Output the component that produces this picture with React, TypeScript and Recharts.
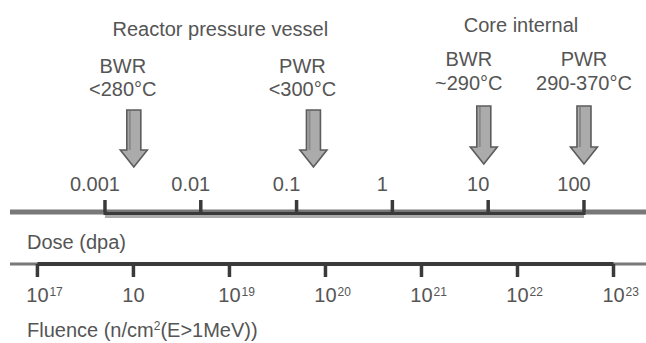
import { ComposedChart, Line, ReferenceLine, Scatter, XAxis, YAxis } from "recharts";

// Dose (dpa) and fluence (n/cm², E>1 MeV) scales, both logarithmic
const doseTicks = [0.001, 0.01, 0.1, 1, 10, 100];
const fluenceTicks = [1e17, 1e18, 1e19, 1e20, 1e21, 1e22, 1e23];
const fluenceExponents = ["17", "", "19", "20", "21", "22", "23"];

// Operating regimes pointed at on the dose scale
const reactorTypes = ["BWR", "PWR", "BWR", "PWR"];
const temperatures = ["<280°C", "<300°C", "~290°C", "290-370°C"];
const componentGroups = ["rpv", "rpv", "core", "core"];
const regimeDose = [0.002, 0.15, 9, 100];

// Group headings over each pair of arrows
const groupTitles = ["Reactor pressure vessel", "Core internal"];
const groupKeys = ["rpv", "core"];
const titleDose = [0.016, 22];

const FONT = '"Liberation Sans", Arial, Helvetica, sans-serif';
const TEXT = "#555";
const LINE_GRAY = "#787878";
const LINE_DARK = "#3a3a3a";
const DOSE_DOMAIN = [1.02e-4, 444];
const FLUENCE_DOMAIN = [5.18e16, 2.18e23];

// vertical offsets (px) above the dose axis line
const groupLayout: Record<string, any> = {
  rpv: { title: -176, reactor: -139, temp: -116, top: -102, tip: -45 },
  core: { title: -180, reactor: -146, temp: -122, top: -106, tip: -48 },
};
const labelShift = [-11, -11, -15, 0];

const regimes = regimeDose.map((dose, i) => ({
  dose,
  level: 1,
  idx: i,
  reactor: reactorTypes[i],
  temp: temperatures[i],
  group: componentGroups[i],
}));

const titles = titleDose.map((dose, i) => ({
  dose,
  level: 1,
  title: groupTitles[i],
  group: groupKeys[i],
}));

// span of the fluence scale between its first and last ticks
const fluenceSpan = [
  { fluence: fluenceTicks[0], level: 0 },
  { fluence: fluenceTicks[fluenceTicks.length - 1], level: 0 },
];

const textStyle = { fontFamily: FONT, fontSize: 20, fill: TEXT };

function RegimeArrow(props: any) {
  const { cx, cy, payload } = props;
  const g = groupLayout[payload.group];
  const tx = cx + labelShift[payload.idx];
  const top = cy + g.top;
  const tip = cy + g.tip;
  const headY = tip - 17;
  const pts = [
    [cx - 7, top],
    [cx + 7, top],
    [cx + 7, headY],
    [cx + 13.5, headY],
    [cx, tip],
    [cx - 13.5, headY],
    [cx - 7, headY],
  ]
    .map((p) => p.join(","))
    .join(" ");
  return (
    <g>
      <text x={tx} y={cy + g.reactor} textAnchor="middle" {...textStyle}>
        {payload.reactor}
      </text>
      <text x={tx} y={cy + g.temp} textAnchor="middle" {...textStyle}>
        {payload.temp}
      </text>
      <polygon points={pts} fill="#ababab" stroke="#5c5c5c" strokeWidth={1.6} />
      <line x1={cx - 4} y1={top + 1} x2={cx - 4} y2={headY} stroke="#8a8a8a" strokeWidth={2} />
    </g>
  );
}

function GroupTitle(props: any) {
  const { cx, cy, payload } = props;
  return (
    <text x={cx} y={cy + groupLayout[payload.group].title} textAnchor="middle" {...textStyle}>
      {payload.title}
    </text>
  );
}

function DoseTick(props: any) {
  const { x, y, payload } = props;
  return (
    <text x={x - 10} y={y - 7} textAnchor="middle" {...textStyle}>
      {String(payload.value)}
    </text>
  );
}

function FluenceTick(props: any) {
  const { x, y, index } = props;
  const exp = fluenceExponents[index];
  return (
    <g>
      <text x={x} y={y + 23} textAnchor="middle" {...textStyle}>
        10
      </text>
      {exp && (
        <text x={x + 12} y={y + 17} textAnchor="start" {...textStyle} fontSize={12}>
          {exp}
        </text>
      )}
    </g>
  );
}

// dark bracket between the first and last dose ticks, with a light shadow under it
function DoseBracket(props: any) {
  const { x1, y1, x2 } = props;
  return (
    <g>
      <line x1={x1} y1={y1 + 4.5} x2={x2} y2={y1 + 4.5} stroke="#ababab" strokeWidth={3} />
      <line x1={x1 - 1.5} y1={y1 + 1.5} x2={x2 + 1.5} y2={y1 + 1.5} stroke={LINE_DARK} strokeWidth={3} />
    </g>
  );
}

export default function App() {
  return (
    <div style={{ position: "absolute", left: 0, top: 0, background: "#fff" }}>
      <ComposedChart width={646} height={343} margin={{ top: 172, right: 0, bottom: 39, left: 10 }}>
        <YAxis hide type="number" dataKey="level" domain={[0, 1]} />
        <XAxis
          xAxisId="dose"
          orientation="top"
          type="number"
          scale="log"
          dataKey="dose"
          domain={DOSE_DOMAIN}
          ticks={doseTicks}
          interval={0}
          height={40}
          tickSize={12}
          axisLine={false}
          tickLine={{ stroke: LINE_DARK, strokeWidth: 3.5 }}
          tick={<DoseTick />}
          label={(p: any) => {
            const vb = p.viewBox;
            return (
              <text x={vb.x + 17} y={vb.y + vb.height + 37} {...textStyle}>
                Dose (dpa)
              </text>
            );
          }}
        />
        <XAxis
          xAxisId="fluence"
          orientation="bottom"
          type="number"
          scale="log"
          dataKey="fluence"
          domain={FLUENCE_DOMAIN}
          ticks={fluenceTicks}
          interval={0}
          height={40}
          tickSize={13}
          axisLine={false}
          tickLine={{ stroke: LINE_DARK, strokeWidth: 3.5 }}
          tick={<FluenceTick />}
          label={(p: any) => {
            const vb = p.viewBox;
            return (
              <text x={vb.x + 17} y={vb.y + 73} {...textStyle}>
                Fluence (n/cm
                <tspan fontSize={12} dy={-7}>
                  2
                </tspan>
                <tspan dy={7}>(E&gt;1MeV))</tspan>
              </text>
            );
          }}
        />
        {/* full-width axis lines */}
        <ReferenceLine
          xAxisId="dose"
          segment={[
            { x: DOSE_DOMAIN[0], y: 1 },
            { x: DOSE_DOMAIN[1], y: 1 },
          ]}
          ifOverflow="visible"
          stroke={LINE_GRAY}
          strokeWidth={5}
        />
        <ReferenceLine
          xAxisId="fluence"
          segment={[
            { x: FLUENCE_DOMAIN[0], y: 0 },
            { x: FLUENCE_DOMAIN[1], y: 0 },
          ]}
          ifOverflow="visible"
          stroke={LINE_GRAY}
          strokeWidth={3}
        />
        {/* darker spans between first and last ticks */}
        <ReferenceLine
          xAxisId="dose"
          segment={[
            { x: doseTicks[0], y: 1 },
            { x: doseTicks[doseTicks.length - 1], y: 1 },
          ]}
          ifOverflow="visible"
          shape={DoseBracket}
        />
        <Line
          xAxisId="fluence"
          data={fluenceSpan}
          dataKey="level"
          stroke={LINE_DARK}
          strokeWidth={4}
          dot={false}
          activeDot={false}
          isAnimationActive={false}
        />
        <Scatter xAxisId="dose" data={regimes} shape={RegimeArrow} isAnimationActive={false} />
        <Scatter xAxisId="dose" data={titles} shape={GroupTitle} isAnimationActive={false} />
      </ComposedChart>
    </div>
  );
}
